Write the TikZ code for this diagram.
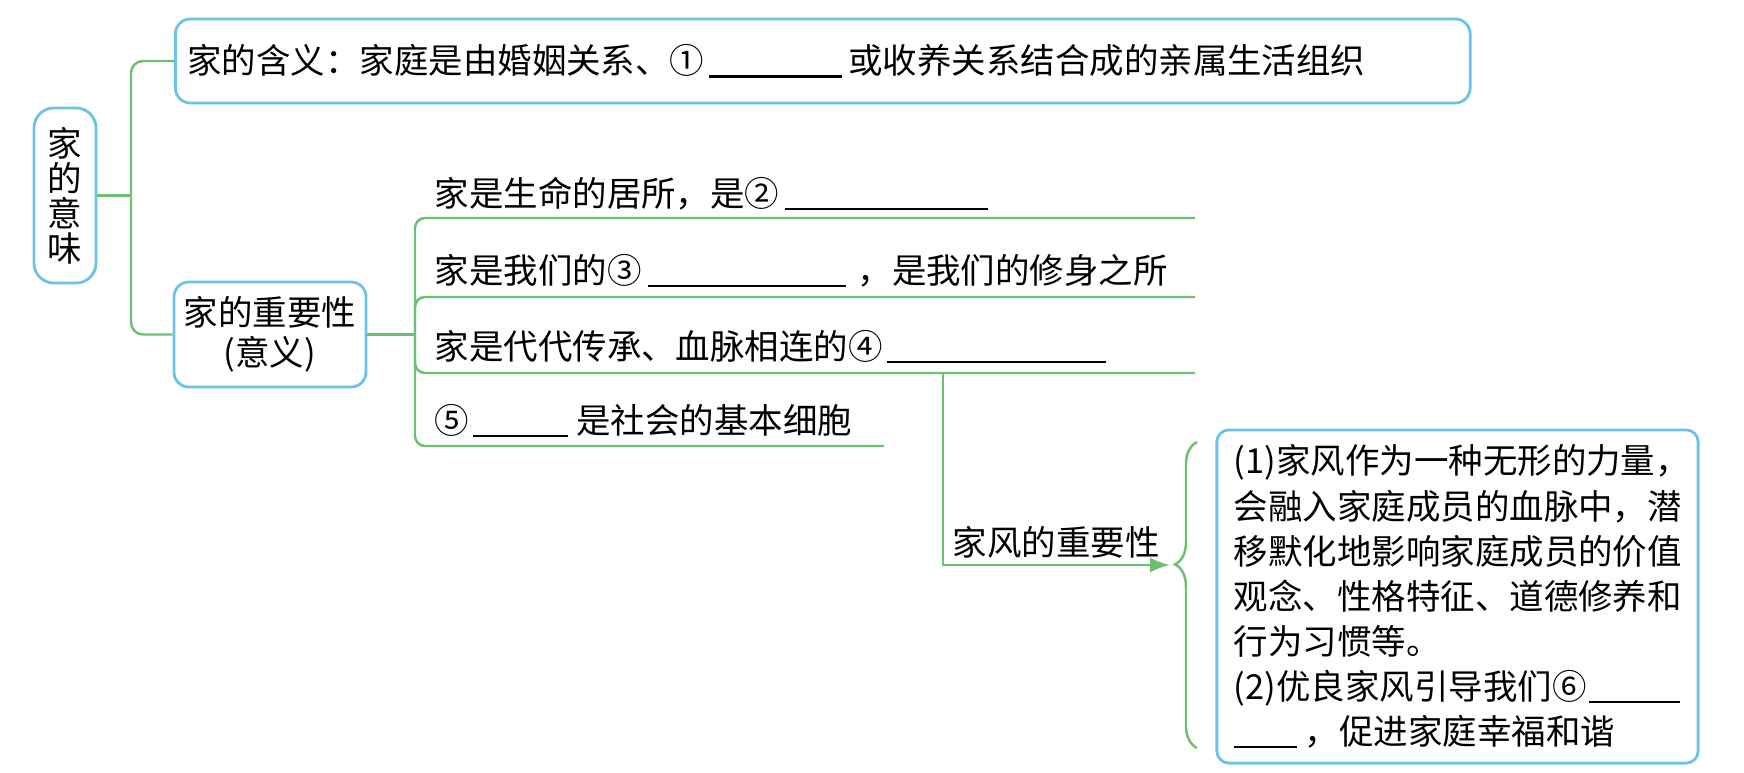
\documentclass[tikz,border=0pt]{standalone}
\usepackage{fontspec}
\newfontfamily\cjk{Noto Sans CJK SC}
\usetikzlibrary{arrows.meta,positioning,decorations.pathreplacing}
\definecolor{boxblue}{HTML}{6CC3E8}
\definecolor{linegreen}{HTML}{6CC070}
\newcommand{\blank}[1]{\rule[-0.12em]{#1}{0.07em}}
\tikzset{
  box style/.style={rectangle, rounded corners=0.15cm, draw=boxblue, line width=0.8pt,
    inner sep=0pt, font=\cjk\fontsize{9.8pt}{11.4pt}\selectfont},
  item style/.style={anchor=base west, inner sep=0pt, font=\cjk\fontsize{9.8pt}{11.4pt}\selectfont},
  link style/.style={draw=linegreen, line width=0.7pt},
  arr style/.style={link style, -{Latex[length=2mm,width=1.5mm]}}
}
\begin{document}
\begin{tikzpicture}[x=0.01cm, y=-0.01cm]
\useasboundingbox (0,0) rectangle (1744,772);
\node[box style, minimum width=0.62cm, minimum height=1.75cm, rounded corners=0.2cm, align=center,
  font=\cjk\fontsize{9.8pt}{9.96pt}\selectfont] (root) at (65,195.5) {家\\的\\意\\味};
\node[box style, anchor=west, minimum width=12.94cm, minimum height=0.84cm, text width=12.70cm, align=left] (meaning)
  at (174,61) {家的含义：家庭是由婚姻关系、①\hspace{0.05cm}\blank{1.33cm}\hspace{0.06cm}或收养关系结合成的亲属生活组织};
\node[box style, minimum width=1.92cm, minimum height=1.05cm, align=center] (importance)
  at (270,334.5) {家的重要性\\(意义)};
\coordinate (rootfork) at (131,195.5);
\draw[link style] (root.east) -- (rootfork);
\draw[link style, rounded corners=0.12cm] (rootfork) |- (meaning.west);
\draw[link style, rounded corners=0.12cm] (rootfork) |- (importance.west);

\node[item style] (life) at (434,206) {家是生命的居所，是②\hspace{0.06cm}\blank{2.03cm}};
\node[item style] (moral) at (434,283) {家是我们的③\hspace{0.07cm}\blank{1.97cm}\hspace{0.12cm}，是我们的修身之所};
\node[item style] (blood) at (434,359) {家是代代传承、血脉相连的④\hspace{0.04cm}\blank{2.19cm}};
\node[item style] (cell) at (434,433) {⑤\hspace{0.04cm}\blank{0.95cm}\hspace{0.08cm}是社会的基本细胞};
\coordinate (spine) at (415,334.5);
\coordinate (life end) at (1195,218);
\coordinate (moral end) at (1195,297);
\coordinate (blood end) at (1195,373);
\coordinate (cell end) at (884,446);
\draw[link style] (importance.east) -- (spine);
\foreach \e in {life end, moral end, blood end, cell end}
  \draw[link style, rounded corners=0.1cm] (spine) |- (\e);

\node[item style] (fenglabel) at (952,555) {家风的重要性};
\node[box style, minimum width=4.81cm, minimum height=3.33cm, text width=4.47cm, align=left, rounded corners=0.12cm,
  font=\cjk\fontsize{9.8pt}{12.8pt}\selectfont] (fengbox) at (1457.5,596.5)
  {(1)家风作为一种无形的力量，\\
   会融入家庭成员的血脉中，潜\\
   移默化地影响家庭成员的价值\\
   观念、性格特征、道德修养和\\
   行为习惯等。\\
   (2)优良家风引导我们⑥\hspace{0.03cm}\blank{0.9cm}\\
   \blank{0.63cm}\hspace{0.08cm}，促进家庭幸福和谐};
\coordinate (fengtop) at (943,373);
\coordinate (arrowend) at (1170,565);
\draw[arr style] (fengtop) |- (arrowend);
\coordinate (bracebot) at (1197,748);
\coordinate (bracetop) at (1197,442);
\draw[link style, decorate, decoration={brace, amplitude=0.22cm, aspect=0.6}] (bracebot) -- (bracetop);
\end{tikzpicture}
\end{document}
